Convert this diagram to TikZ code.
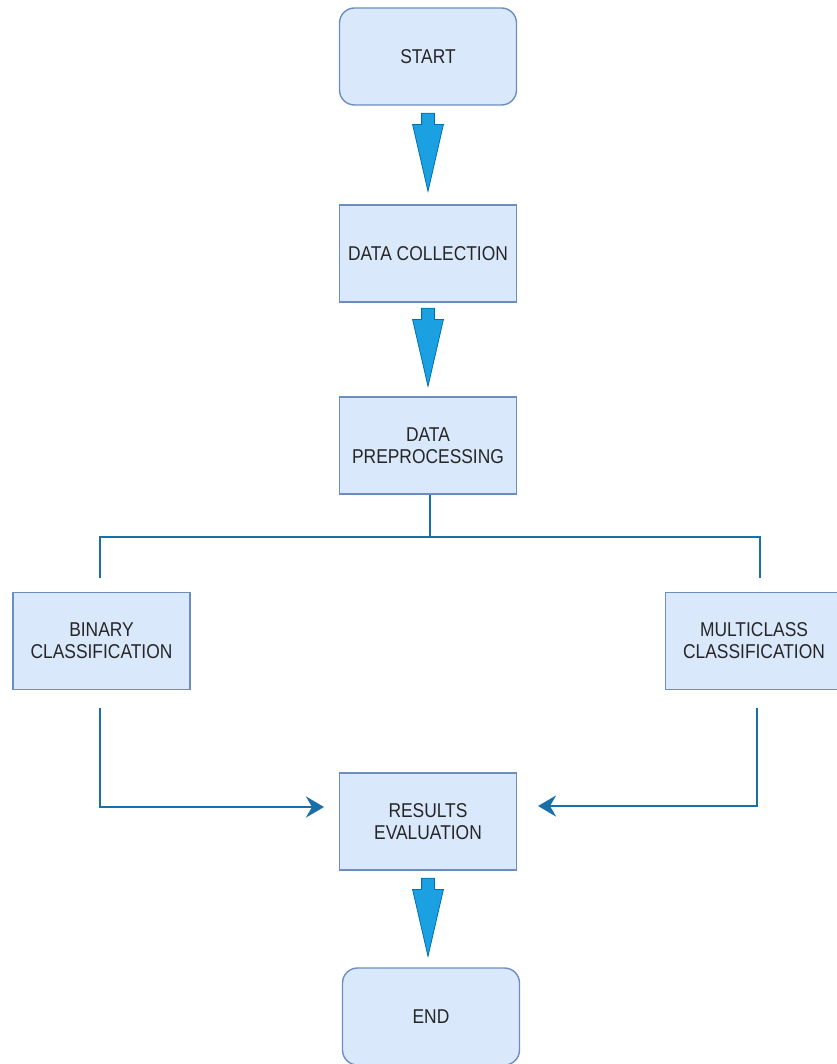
\documentclass[tikz,border=0pt]{standalone}
\usepackage{fontspec}
\setmainfont[FakeStretch=0.87]{Liberation Sans}
\usetikzlibrary{shapes}
\usetikzlibrary{shapes.arrows}
\usetikzlibrary{arrows.meta}
\definecolor{boxfill}{HTML}{DAE8FC}
\definecolor{boxline}{HTML}{6C8EBF}
\definecolor{arrfill}{HTML}{1BA1E2}
\definecolor{arrline}{HTML}{006EAF}
\definecolor{linkcol}{HTML}{1A6FAA}
\tikzset{
    box/.style = {rectangle, line width=1.4pt, draw=boxline, fill=boxfill, align=center, minimum width=177pt, minimum height=97pt, text=black!85, font=\fontsize{20}{22}\selectfont},
    roundbox/.style = {box, rounded corners=15pt},
    blockarrow/.style = {single arrow, draw=arrline, fill=arrfill, line width=0.8pt, rotate=-90, anchor=tip, minimum height=78pt, inner xsep=0pt, inner ysep=6pt, single arrow head extend=9pt, single arrow tip angle=26, single arrow head indent=0pt},
    edgel/.style = {line width=2.6pt, draw=linkcol},
    edgea/.style = {edgel, -{Stealth[length=18pt,width=21pt,inset=6pt]}}, % into results
}

\begin{document}
\begin{tikzpicture}[x=1pt, y=-1pt]
  \useasboundingbox (0,0) rectangle (836,1064);

  \node[roundbox] (start)   at (428,56.5)  {START};
  \node[box]      (collect) at (428,253.5) {DATA COLLECTION};
  \node[box]      (prep)    at (428,445.5) {DATA\\PREPROCESSING};
  \node[box]      (binary)  at (101.5,641) {BINARY\\CLASSIFICATION};
  \node[box]      (multi)   at (754,641)   {MULTICLASS\\CLASSIFICATION};
  \node[box]      (results) at (428,821.5) {RESULTS\\EVALUATION};
  \node[roundbox] (end)     at (431,1016.5) {END};

  % tips sit just above the next box
  \node[blockarrow] (a1) at (428,193) {};
  \node[blockarrow] (a2) at (428,388) {};
  \node[blockarrow] (a3) at (428,958) {};

  % split
  \coordinate (split) at (430,537);
  \coordinate (binin) at (100,578);
  \coordinate (mulin) at (760,578);
  \draw[edgel] (prep.south -| split) -- (split);
  \draw[edgel] (binin) |- (split) -| (mulin);

  % join
  \coordinate (binout) at (100,708);
  \coordinate (mulout) at (757,708);
  \coordinate (resl) at (324,807);
  \coordinate (resr) at (538,806);
  \draw[edgea] (binout) |- (resl);
  \draw[edgea] (mulout) |- (resr);
\end{tikzpicture}
\end{document}
